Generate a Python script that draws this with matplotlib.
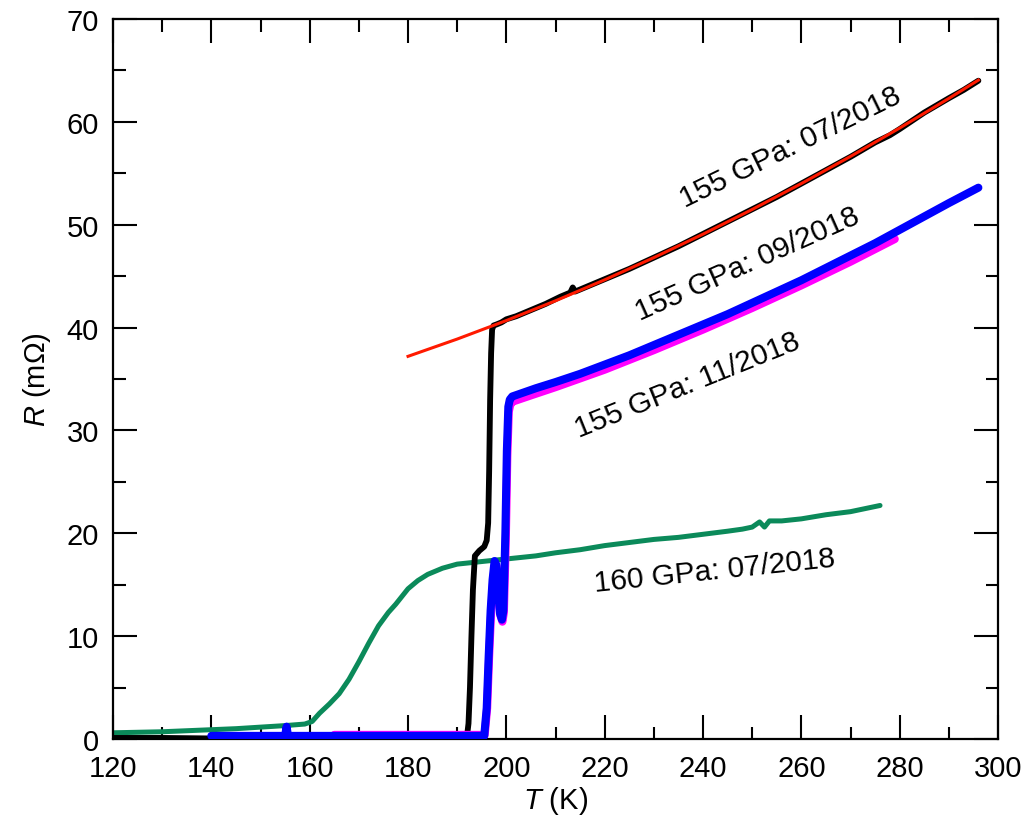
import matplotlib
matplotlib.use("Agg")
import matplotlib.pyplot as plt
from matplotlib.ticker import MultipleLocator

plt.rcParams['font.family'] = ['Liberation Sans', 'DejaVu Sans']
plt.rcParams['mathtext.fontset'] = 'custom'
plt.rcParams['mathtext.it'] = 'Liberation Sans:italic'
plt.rcParams['mathtext.rm'] = 'Liberation Sans'

# ---- data ----
T_black = [120, 130, 140, 150, 160, 170, 180, 188, 192.0, 192.3, 192.6, 192.9, 193.2, 193.6,
           194.5, 195.5, 196.0, 196.3, 196.5, 196.7, 196.9, 197.1, 197.4, 198, 199, 200, 202,
           205, 208, 211, 213, 213.5, 214, 217, 220, 225, 230, 235, 240, 245, 250, 255, 260,
           265, 270, 275, 278, 280, 285, 290, 293, 296]
R_black = [0.1, 0.1, 0.05, 0.1, 0.15, 0.2, 0.15, 0.2, 0.3, 1.5, 5, 10, 14.5, 17.8,
           18.3, 18.7, 19.3, 21, 26, 33, 37.5, 39.8, 40.2, 40.3, 40.5, 40.8, 41.1,
           41.7, 42.3, 43.0, 43.4, 43.9, 43.5, 44.1, 44.7, 45.7, 46.8, 47.9, 49.1, 50.3, 51.5,
           52.7, 54.0, 55.3, 56.6, 58.0, 58.7, 59.3, 60.9, 62.3, 63.1, 64.0]

T_fit = [180, 190, 200, 210, 220, 230, 240, 250, 260, 270, 280, 290, 296]
R_fit = [37.2, 38.88, 40.68, 42.60, 44.64, 46.80, 49.08, 51.48, 54.00, 56.64, 59.40, 62.28, 64.06]

T_blue = [140, 145, 150, 155, 155.3, 155.6, 160, 170, 180, 190, 195.5, 196.0, 196.4, 196.8,
          197.2, 197.6, 197.9, 198.3, 198.7, 199.1, 199.4, 199.8, 200.1, 200.4, 200.7, 201.2,
          203, 206, 210, 215, 220, 225, 230, 235, 240, 245, 250, 255, 260, 265, 270, 275,
          280, 285, 290, 296]
R_blue = [0.3, 0.3, 0.3, 0.3, 1.2, 0.3, 0.3, 0.3, 0.3, 0.3, 0.3, 3, 8, 12.5,
          15.5, 17.3, 17.0, 14.5, 12.2, 11.6, 12.5, 20, 28, 32.3, 33.0, 33.3,
          33.6, 34.1, 34.7, 35.5, 36.4, 37.3, 38.3, 39.3, 40.3, 41.3, 42.4, 43.5, 44.6, 45.8,
          47.0, 48.2, 49.5, 50.8, 52.1, 53.6]

T_mag = [165, 175, 185, 195.6, 196.1, 196.5, 196.9, 197.3, 197.7, 198.0, 198.4, 198.8, 199.2,
         199.5, 199.9, 200.2, 200.5, 200.8, 201.3, 205, 210, 220, 230, 240, 250, 260, 270, 279]
R_mag = [0.4, 0.4, 0.4, 0.4, 3, 8, 12.3, 15.3, 17.0, 16.8, 14.3, 12.0, 11.4,
         12.3, 19.5, 27.5, 31.8, 32.5, 32.8, 33.4, 34.2, 35.9, 37.8, 39.8, 41.9, 44.1, 46.4, 48.6]

T_green = [120, 125, 130, 135, 140, 145, 150, 155, 159, 160.5, 162, 164, 166, 168, 170, 172,
           174, 176, 177.5, 180, 182, 184, 187, 190, 194, 198, 202, 206, 210, 215, 220, 225,
           230, 235, 240, 245, 248, 250, 251.5, 252.5, 253.5, 256, 260, 265, 270, 273, 276]
R_green = [0.6, 0.65, 0.7, 0.8, 0.9, 1.0, 1.15, 1.3, 1.45, 1.7, 2.5, 3.4, 4.4, 5.8, 7.5, 9.3,
           11.0, 12.3, 13.1, 14.6, 15.4, 16.0, 16.6, 17.0, 17.2, 17.4, 17.6, 17.8, 18.1, 18.4,
           18.8, 19.1, 19.4, 19.6, 19.9, 20.2, 20.4, 20.6, 21.1, 20.6, 21.2, 21.2, 21.4, 21.8,
           22.1, 22.4, 22.7]

labels = ["155 GPa: 07/2018", "155 GPa: 09/2018", "155 GPa: 11/2018", "160 GPa: 07/2018"]
label_T = [257.7, 249.1, 236.9, 242.4]
label_R = [57.6, 46.2, 34.5, 16.4]
label_rot = [26, 24, 22, 6]

# ---- figure ----
fig = plt.figure(figsize=(10.32, 8.29), dpi=100)
ax = fig.add_axes([0.1095, 0.1074, 0.8576, 0.8685])

ax.plot(T_green, R_green, color='#0b8a5a', lw=3.6, solid_capstyle='round', zorder=2)
ax.plot(T_black, R_black, color='black', lw=4.2, solid_capstyle='round', zorder=3)
ax.plot(T_fit, R_fit, color='#ff1a00', lw=2.2, zorder=4)
ax.plot(T_mag, R_mag, color='#ff00ff', lw=5.8, solid_capstyle='round', zorder=5)
ax.plot(T_blue, R_blue, color='#0000ff', lw=5.8, solid_capstyle='round', zorder=6)

for s, t, r, rot in zip(labels, label_T, label_R, label_rot):
    ax.text(t, r, s, fontsize=21.5, rotation=rot, rotation_mode='anchor',
            ha='center', va='center', zorder=7)

ax.set_xlim(120, 300)
ax.set_ylim(0, 70)
ax.xaxis.set_major_locator(MultipleLocator(20))
ax.xaxis.set_minor_locator(MultipleLocator(10))
ax.yaxis.set_major_locator(MultipleLocator(10))
ax.yaxis.set_minor_locator(MultipleLocator(5))
ax.tick_params(which='both', direction='in', top=True, right=True, width=1.5,
               labelsize=21, colors='black')
ax.tick_params(which='major', length=17)
ax.tick_params(which='minor', length=9)
ax.tick_params(axis='y', which='major', pad=10)
ax.tick_params(axis='x', which='major', pad=10.5)
for sp in ax.spines.values():
    sp.set_linewidth(1.6)

ax.set_xlabel(r'$T$ (K)', fontsize=21, labelpad=2)
ax.set_ylabel(r'$R$ (m$\Omega$)', fontsize=21, labelpad=10)

fig.savefig('out.png', dpi=100)
